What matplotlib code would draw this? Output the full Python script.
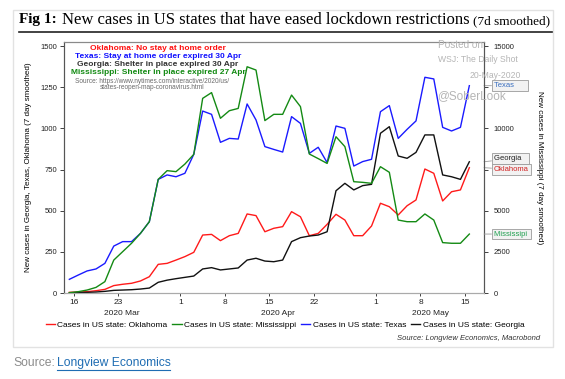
import numpy as np
import pandas as pd
import matplotlib
matplotlib.use('Agg')
import matplotlib.pyplot as plt
from matplotlib.patches import Rectangle
from matplotlib.lines import Line2D

plt.rcParams['font.family'] = ['Liberation Sans', 'DejaVu Sans']

# business days 16 Mar - 18 May 2020
dates = pd.bdate_range('2020-03-16', periods=46)

# 7 day smoothed new cases
oklahoma = [4, 6, 8, 14, 22, 45, 53, 59, 73, 99, 174, 180, 200, 221, 247, 352,
            356, 318, 348, 362, 480, 470, 372, 393, 403, 494, 463, 348, 362, 417,
            478, 443, 348, 348, 407, 545, 524, 474, 530, 565, 753, 727, 559, 615,
            626, 761]
texas = [83, 109, 134, 146, 180, 285, 312, 312, 362, 433, 690, 717, 706, 727, 842,
         1105, 1085, 915, 939, 935, 1148, 1051, 889, 872, 856, 1071, 1030, 848, 885,
         792, 1014, 1000, 771, 798, 812, 1101, 1138, 939, 994, 1045, 1310, 1300,
         1006, 984, 1006, 1259]
georgia = [0, 3, 4, 6, 10, 16, 18, 20, 24, 30, 65, 78, 87, 95, 103, 146, 154, 140,
           146, 152, 200, 211, 194, 190, 200, 312, 336, 346, 352, 372, 621, 666, 626,
           652, 660, 970, 1010, 832, 818, 854, 960, 960, 717, 706, 690, 797]
# Mississippi on the right hand axis
mississippi = [20, 80, 180, 340, 690, 2000, 2510, 3020, 3620, 4330, 6900, 7430,
               7370, 7830, 8420, 11820, 12170, 10610, 11070, 11210, 13740, 13540,
               10470, 10850, 10850, 12020, 11320, 8440, 8160, 7870, 9490, 8890, 6760,
               6720, 6660, 7670, 7330, 4430, 4330, 4330, 4800, 4430, 3060, 3020, 3020,
               3580]

tick_days = ['2020-03-16', '2020-03-23', '2020-04-01', '2020-04-08', '2020-04-15',
             '2020-04-22', '2020-05-01', '2020-05-08', '2020-05-15']
tick_labels = ['16', '23', '1', '8', '15', '22', '1', '8', '15']
month_labels = ['2020 Mar', '2020 Apr', '2020 May']
month_pos = [5.9, 23.5, 40.6]

notes = [('Oklahoma: No stay at home order', '#ff1010'),
         ('Texas: Stay at home order expired 30 Apr', '#1010ff'),
         ('Georgia: Shelter in place expired 30 Apr', '#333333'),
         ('Mississippi: Shelter in place expired 27 Apr', '#128a12')]

W, H = 565, 379
def fx(px): return px / W
def fy(py): return 1 - py / H

fig = plt.figure(figsize=(W / 100, H / 100), dpi=100)
fig.patch.set_facecolor('white')

# page frame
fig.add_artist(Rectangle((fx(13), fy(347)), fx(553) - fx(13), fy(10) - fy(347),
                         transform=fig.transFigure, fill=False, edgecolor='#e2e2e2', lw=1))

# title
serif = ['Liberation Serif', 'DejaVu Serif']
fig.text(fx(19), fy(20), 'Fig 1:', family=serif, fontweight='bold', fontsize=11, va='center')
fig.text(fx(62), fy(20), 'New cases in US states that have eased lockdown restrictions',
         family=serif, fontsize=12, va='center')
fig.text(fx(473), fy(21), '(7d smoothed)', family=serif, fontsize=9.5, va='center')
fig.add_artist(Line2D([fx(19), fx(552)], [fy(32), fy(32)], color='#222222', lw=1.2))

x = np.arange(len(dates))
ax = fig.add_axes([fx(64), fy(293), fx(484) - fx(64), fy(42) - fy(293)])
ax2 = ax.twinx()

l_ok, = ax.plot(x, oklahoma, color='#ff1a1a', lw=1.0)
l_tx, = ax.plot(x, texas, color='#1a1aff', lw=1.0)
l_ga, = ax.plot(x, georgia, color='#111111', lw=1.0)
l_ms, = ax2.plot(x, mississippi, color='#148a14', lw=1.0)

ax.set_xlim(-0.6, 46.65)
ax.set_ylim(0, 1524.3)
ax2.set_ylim(0, 15243)

tick_pos = dates.get_indexer(pd.to_datetime(tick_days)) + 0.5
ax.set_xticks(tick_pos)
ax.set_xticklabels(tick_labels)
ax.tick_params(axis='x', length=2, width=0.6, pad=2, labelsize=6.0, colors='#222222')
for m, p in zip(month_labels, month_pos):
    ax.text(p, -0.082, m, transform=ax.get_xaxis_transform(), ha='center', va='center',
            fontsize=6.0, color='#222222')

ax.set_yticks(np.arange(0, 1501, 250))
ax.tick_params(axis='y', length=3, width=0.6, pad=2, labelsize=5.5, colors='#222222')
ax2.set_yticks(np.arange(0, 15001, 2500))
ax2.set_yticklabels(['0', '2500', '5000', '', '10000', '', '15000'])
ax2.tick_params(axis='y', length=3, width=0.6, pad=4, labelsize=5.5, colors='#222222')

for a in (ax, ax2):
    a.spines['left'].set_color('#555555')
    a.spines['right'].set_color('#555555')
    a.spines['top'].set_color('#8a8a8a')
    a.spines['bottom'].set_color('#aaaaaa')

ax.set_ylabel('New cases in Georgia, Texas, Oklahoma (7 day smoothed)', fontsize=5.8)
ax.yaxis.set_label_coords((31.7 - 64) / 420, 0.5)
ax2.set_ylabel('New cases in Mississippi (7 day smoothed)', fontsize=5.8, rotation=270,
               va='center')
ax2.yaxis.set_label_coords((539 - 64) / 420, 0.5)

# notes block
for i, (t, c) in enumerate(notes):
    fig.text(fx(158), fy(48 + 8.1 * i), t, color=c, fontsize=6.0, fontweight='bold',
             ha='center', va='center')
fig.text(fx(152), fy(81.7), 'Source: https://www.nytimes.com/interactive/2020/us/',
         color='#6a6a6a', fontsize=4.7, ha='center', va='center')
fig.text(fx(152), fy(87.7), 'states-reopen-map-coronavirus.html',
         color='#6a6a6a', fontsize=4.7, ha='center', va='center')

# right edge value tags
tags = [(ax, 'Texas', texas[-1], '#3a6fc0', 0, 6),
        (ax, 'Georgia', georgia[-1], '#222222', 2.2, 3),
        (ax, 'Oklahoma', oklahoma[-1], '#d02020', -1.2, 0),
        (ax2, 'Mississipi', mississippi[-1], '#20a050', 0, 1)]
for a, name, v, c, dy, pad in tags:
    a.annotate(name + ' ' * pad, xy=(1, v), xycoords=a.get_yaxis_transform(),
               xytext=(7, dy), textcoords='offset points', ha='left', va='center',
               fontsize=5.5, color=c, annotation_clip=False,
               bbox=dict(boxstyle='square,pad=0.25', fc='#f2f2f2', ec='#9a9a9a', lw=0.6),
               arrowprops=dict(arrowstyle='-', color='#9a9a9a', lw=0.6, shrinkA=0, shrinkB=0))

# watermark
wm = '#b5b5b5'
fig.text(fx(438), fy(45), 'Posted on', color=wm, fontsize=7.2, va='center')
fig.text(fx(438), fy(60), 'WSJ: The Daily Shot', color=wm, fontsize=6.2, va='center')
fig.text(fx(521), fy(75), '20-May-2020', color=wm, fontsize=6.2, va='center', ha='right')
fig.text(fx(437), fy(96), '@SoberLook', color=wm, fontsize=8.5, va='center')

fig.legend([l_ok, l_ms, l_tx, l_ga],
           ['Cases in US state: Oklahoma', 'Cases in US state: Mississippi',
            'Cases in US state: Texas', 'Cases in US state: Georgia'],
           loc='center', bbox_to_anchor=(fx(285), fy(325)), ncol=4, fontsize=6.0,
           frameon=False, handlelength=1.1, handletextpad=0.3, columnspacing=0.6)

fig.text(fx(540), fy(339), 'Source: Longview Economics, Macrobond', ha='right',
         va='center', style='italic', fontsize=5.5, color='#333333')

# page caption under the frame
fig.text(fx(13), fy(363), 'Source:', color='#8c8c8c', fontsize=8.7, va='center')
fig.text(fx(57), fy(363), 'Longview Economics', color='#1f6db3', fontsize=8.7, va='center')
fig.add_artist(Line2D([fx(57), fx(170)], [fy(369.5), fy(369.5)], color='#1f6db3', lw=0.8))

fig.savefig('out.png', dpi=100)
